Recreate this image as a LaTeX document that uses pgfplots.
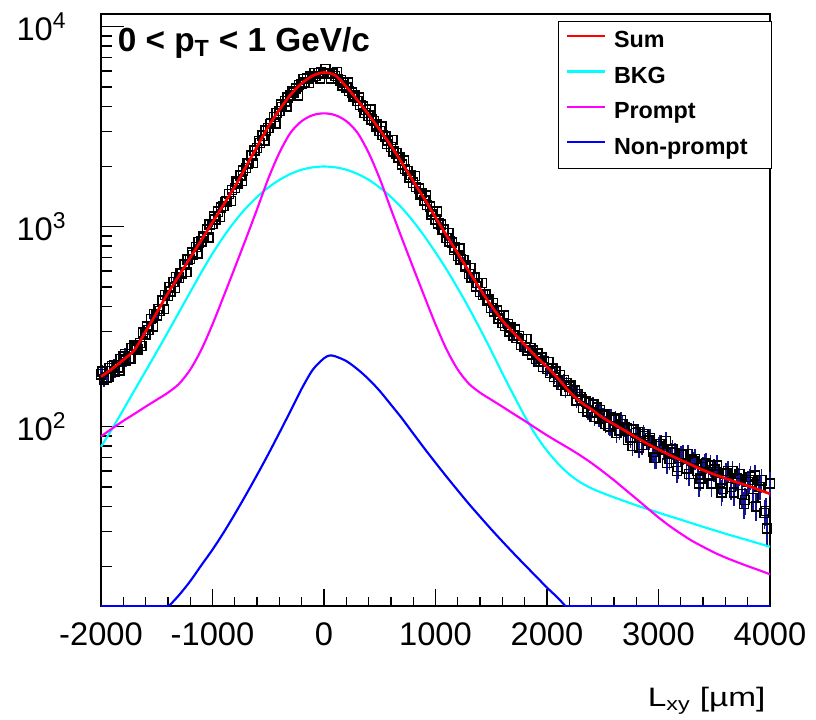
\documentclass[border=0pt]{standalone}
\usepackage{fontspec}
\setmainfont{Liberation Sans}
\usepackage{graphicx}
\usepackage{pgfplots}
\pgfplotsset{compat=1.18}
\definecolor{navyerr}{RGB}{20,20,150}
\definecolor{rRed}{RGB}{255,0,0}
\definecolor{rCyan}{RGB}{0,255,255}
\definecolor{rMagenta}{RGB}{255,0,255}
\definecolor{rBlue}{RGB}{0,0,255}
\pgfplotsset{datastyle/.style={forget plot, only marks, mark=square, mark size=3.4pt,
  mark options={black, line width=1.1pt, solid},
  error bars/.cd, y dir=both, y explicit, error bar style={navyerr, line width=1.2pt}, error mark=none}}
\begin{document}
\begin{tikzpicture}
\begin{axis}[
  set layers=standard,
  scale only axis, width=501.75pt, height=444pt,
  xmin=-2000, xmax=4000, ymode=log, ymin=12.7, ymax=11574,
  axis line style={line width=1pt},
  tick style={line width=1pt, black},
  tick align=inside, xtick pos=bottom, ytick pos=left,
  xtick={-2000,-1000,0,1000,2000,3000,4000},
  xticklabels={-2000,-1000,0,1000,2000,3000,4000},
  minor x tick num=4,
  ytick={100,1000,10000},
  yticklabels={10\textsuperscript{2},10\textsuperscript{3},10\textsuperscript{4}},
  minor ytick={20,30,40,50,60,70,80,90,200,300,400,500,600,700,800,900,2000,3000,4000,5000,6000,7000,8000,9000},
  xtick style={/pgfplots/major tick length=12.5pt,/pgfplots/minor tick length=6.5pt},
  ytick style={/pgfplots/major tick length=17pt,/pgfplots/minor tick length=8.25pt},
  ticklabel style={font=\fontsize{24.5}{29}\selectfont},
  xticklabel style={yshift=-9pt},
  yticklabel style={xshift=-22.5pt},
  clip=false,
  legend cell align=left,
  legend style={at={(1.003,0.988)}, anchor=north east, draw=black, line width=0.75pt, fill=white,
    font=\bfseries\fontsize{17.5}{21}\selectfont, inner xsep=6pt, inner ysep=7pt,
    row sep=10pt, column sep=6pt, nodes={inner sep=0pt, text height=12.6pt, text depth=4pt}},
  legend image code/.code={\draw[#1] (0pt,4.5pt) -- (28pt,4.5pt);},
]
\coordinate (bl) at (rel axis cs:0,0);
\addplot[datastyle] table[x=x, y=y, y error=e] {
x y e
-2000 183 13.5
-1950 176 13.3
-1900 201 14.2
-1850 198 14.1
-1800 224 15.0
-1750 221 14.9
-1700 255 16.0
-1650 262 16.2
-1600 290 17.0
-1550 345 18.6
-1500 361 19.0
-1450 428 20.7
-1400 452 21.3
-1350 530 23.0
-1300 556 23.6
-1250 648 25.5
-1200 688 26.2
-1150 790 28.1
-1100 842 29.0
-1050 968 31.1
-1000 1030 32.1
-950 1188 34.5
-900 1270 35.6
-850 1455 38.1
-800 1560 39.5
-750 1805 42.5
-700 1970 44.4
-650 2270 47.6
-600 2480 49.8
-550 2850 53.4
-500 3120 55.9
-450 3530 59.4
-400 3800 61.6
-350 4240 65.1
-300 4530 67.3
-250 4920 70.1
-200 5170 71.9
-150 5500 74.2
-100 5650 75.2
-50 5850 76.5
0 5860 76.6
50 5850 76.5
100 5660 75.2
150 5400 73.5
200 4960 70.4
250 4690 68.5
300 4250 65.2
350 3990 63.2
400 3590 59.9
450 3370 58.1
500 3010 54.9
550 2820 53.1
600 2500 50.0
650 2330 48.3
700 2050 45.3
750 1900 43.6
800 1660 40.7
850 1550 39.4
900 1350 36.7
950 1265 35.6
1000 1090 33.0
1050 1025 32.0
1100 880 29.7
1150 835 28.9
1200 716 26.8
1250 681 26.1
1300 580 24.1
1350 556 23.6
1400 472 21.7
1450 457 21.4
1500 392 19.8
1550 381 19.5
1600 330 18.2
1650 326 18.1
1700 286 16.9
1750 284 16.9
1800 250 15.8
1850 247 15.7
1900 218 14.8
1950 222 14.9
2000 194 13.9
2050 195 14.0
2100 168 13.0
2150 171 13.1
2200 158 12.6
2250 152 12.3
2300 141 11.9
2350 134 11.6
2400 118 10.9
2450 125 11.2
2500 114 10.7
2550 101 10.0
2600 108 10.4
2650 96 9.8
2700 99 9.9
2750 88 9.4
2800 93 9.6
2850 81 9.0
2900 86 9.3
2950 75 8.7
3000 80 8.9
3050 77 8.8
3100 69 8.3
3150 74 8.6
3200 72 8.5
3250 62 7.9
3300 68 8.2
3350 60 7.7
3400 63 7.9
3450 57 7.5
3500 61 7.8
3550 53 7.3
3600 58 7.6
3650 50 7.1
3700 55 7.4
3750 46 6.8
3800 53 7.3
3850 44 6.6
3900 50 7.1
3950 37 6.1
4000 52 7.2
};
\addplot[datastyle] table[x=x, y=y, y error=e] {
x y e
-1975 172 13.1
-1925 197 14.0
-1875 189 13.7
-1825 218 14.8
-1775 214 14.6
-1725 247 15.7
-1675 243 15.6
-1625 296 17.2
-1575 305 17.5
-1525 366 19.1
-1475 380 19.5
-1425 456 21.4
-1375 475 21.8
-1325 561 23.7
-1275 585 24.2
-1225 684 26.2
-1175 722 26.9
-1125 836 28.9
-1075 885 29.7
-1025 1025 32.0
-975 1086 33.0
-925 1250 35.4
-875 1335 36.5
-825 1530 39.1
-775 1650 40.6
-725 1915 43.8
-675 2080 45.6
-625 2410 49.1
-575 2620 51.2
-525 3030 55.0
-475 3280 57.3
-425 3710 60.9
-375 3960 62.9
-325 4430 66.6
-275 4670 68.3
-225 5100 71.4
-175 5260 72.5
-125 5630 75.0
-75 5680 75.4
-25 5920 76.9
25 5790 76.1
75 5830 76.4
125 5470 74.0
175 5250 72.5
225 4760 69.0
275 4530 67.3
325 4060 63.7
375 3840 62.0
425 3430 58.6
475 3240 56.9
525 2870 53.6
575 2700 52.0
625 2380 48.8
675 2220 47.1
725 1940 44.0
775 1810 42.5
825 1580 39.7
875 1475 38.4
925 1285 35.8
975 1195 34.6
1025 1040 32.2
1075 968 31.1
1125 842 29.0
1175 787 28.1
1225 686 26.2
1275 641 25.3
1325 558 23.6
1375 524 22.9
1425 455 21.3
1475 433 20.8
1525 377 19.4
1575 362 19.0
1625 319 17.9
1675 313 17.7
1725 278 16.7
1775 274 16.6
1825 241 15.5
1875 240 15.5
1925 212 14.6
1975 213 14.6
2025 186 13.6
2075 189 13.7
2125 162 12.7
2175 165 12.8
2225 151 12.3
2275 146 12.1
2325 124 11.1
2375 131 11.4
2425 112 10.6
2475 121 11.0
2525 103 10.1
2575 112 10.6
2625 93 9.6
2675 103 10.1
2725 86 9.3
2775 97 9.8
2825 79 8.9
2875 90 9.5
2925 88 9.4
2975 70 8.4
3025 82 9.1
3075 66 8.1
3125 77 8.8
3175 63 7.9
3225 73 8.5
3275 58 7.6
3325 69 8.3
3375 55 7.4
3425 66 8.1
3475 52 7.2
3525 64 8.0
3575 49 7.0
3625 60 7.7
3675 47 6.9
3725 58 7.6
3775 43 6.6
3825 56 7.5
3875 40 6.3
3925 54 7.3
3975 31 5.6
};
\addplot[datastyle] table[x=x, y=y, y error=e] {
x y e
-1985 189 13.7
-1935 177 13.3
-1885 203 14.2
-1835 191 13.8
-1785 231 15.2
-1735 220 14.8
-1685 249 15.8
-1635 253 15.9
-1585 317 17.8
-1535 317 17.8
-1485 387 19.7
-1435 387 19.7
-1385 498 22.3
-1335 493 22.2
-1285 586 24.2
-1235 593 24.4
-1185 742 27.2
-1135 736 27.1
-1085 891 29.8
-1035 884 29.7
-985 1126 33.6
-935 1118 33.4
-885 1330 36.5
-835 1344 36.7
-785 1680 41.0
-735 1689 41.1
-685 2075 45.6
-635 2082 45.6
-585 2688 51.8
-535 2705 52.0
-485 3257 57.1
-435 3278 57.3
-385 4077 63.9
-335 3983 63.1
-285 4754 68.9
-235 4539 67.4
-185 5473 74.0
-135 5227 72.3
-85 5860 76.6
-35 5505 74.2
15 6138 78.3
65 5518 74.3
115 5944 77.1
165 5084 71.3
215 5263 72.5
265 4454 66.7
315 4424 66.5
365 3712 60.9
415 3849 62.0
465 3164 56.2
515 3177 56.4
565 2591 50.9
615 2719 52.1
665 2207 47.0
715 2142 46.3
765 1763 42.0
815 1791 42.3
865 1451 38.1
915 1435 37.9
965 1153 34.0
1015 1192 34.5
1065 962 31.0
1115 929 30.5
1165 765 27.7
1215 779 27.9
1265 630 25.1
1315 622 24.9
1365 502 22.4
1415 522 22.8
1465 425 20.6
1515 415 20.4
1565 348 18.7
1615 359 18.9
1665 300 17.3
1715 307 17.5
1765 256 16.0
1815 275 16.6
1865 230 15.2
1915 232 15.2
1965 199 14.1
2015 211 14.5
2065 177 13.3
2115 181 13.5
2165 151 12.3
2215 161 12.7
2265 135 11.6
2315 137 11.7
2365 119 10.9
2415 129 11.4
2465 110 10.5
2515 115 10.7
2565 99.5 10.0
2615 110 10.5
2665 108 10.4
2715 98 9.9
2765 80 8.9
2815 94 9.7
2865 92 9.6
2915 85.5 9.2
2965 70 8.4
3015 82 9.1
3065 85 9.2
3115 74.5 8.6
3165 60 7.7
3215 72.2 8.5
3265 73 8.5
3315 66.9 8.2
3365 52 7.2
3415 65 8.1
3465 64 8.0
3515 59.5 7.7
3565 47 6.9
3615 58.5 7.6
3665 60 7.7
3715 54.9 7.4
3765 41 6.4
3815 54.2 7.4
3865 57 7.5
3915 49.9 7.1
3965 38 6.2
};
\addplot[rRed, line width=2pt, smooth, on layer=axis foreground] coordinates {
(-2000,178)(-1900,195)(-1800,216)(-1700,242)(-1600,299)(-1500,372)(-1400,465)(-1300,569)
(-1200,700)(-1100,857)(-1000,1052)(-900,1291)(-800,1585)(-700,1995)(-600,2512)(-500,3162)
(-400,3846)(-300,4571)(-200,5212)(-100,5689)(0,5902)(100,5715)(200,5012)(300,4295)
(400,3631)(500,3055)(600,2541)(700,2080)(800,1690)(900,1380)(1000,1114)(1100,902)
(1200,735)(1300,598)(1400,488)(1500,403)(1600,339)(1700,295)(1800,257)(1900,225)
(2000,199)(2100,174)(2200,150)(2300,133)(2400,122)(2500,111)(2600,103)(2700,95.5)
(2800,88.5)(2900,82.2)(3000,76.9)(3100,72.3)(3200,68.1)(3300,64.3)(3400,60.7)(3500,57.8)
(3600,55.2)(3700,52.8)(3800,50.7)(3900,48.4)(4000,46.2)};
\addlegendentry{Sum}
\addplot[rCyan, line width=1.6pt, smooth] coordinates {
(-2000,79.4)(-1900,97.7)(-1800,121.6)(-1700,152.1)(-1600,189.7)(-1500,237.1)(-1400,297.2)
(-1300,374.1)(-1200,470.9)(-1100,591.6)(-1000,734.5)(-900,893.3)(-800,1064)(-700,1239)
(-600,1409)(-500,1570)(-400,1714)(-300,1837)(-200,1928)(-100,1982)(0,2000)(100,1982)
(200,1928)(300,1837)(400,1718)(500,1570)(600,1409)(700,1239)(800,1064)(900,897)
(1000,745)(1100,610)(1200,492)(1300,392)(1400,308)(1500,240)(1600,185)(1700,144)
(1800,113)(1900,90.8)(2000,75.9)(2100,65.3)(2200,57.8)(2300,52.7)(2400,49.2)(2500,46.6)
(2600,44.4)(2800,40.5)(3000,37.2)(3200,34.3)(3400,31.6)(3600,29.2)(3800,27.1)(4000,25.1)};
\addlegendentry{BKG}
\addplot[rMagenta, line width=1.6pt, smooth] coordinates {
(-2000,89.5)(-1900,98)(-1800,107)(-1700,116)(-1600,126)(-1500,136.5)(-1400,148)(-1300,164)
(-1200,193)(-1100,243)(-1000,325)(-900,449)(-800,624)(-700,871)(-600,1225)(-500,1738)
(-400,2344)(-300,2951)(-200,3373)(-100,3614)(0,3690)(100,3614)(200,3373)(300,2951)
(400,2344)(500,1738)(600,1225)(700,871)(800,624)(900,449)(1000,325)(1100,243)
(1200,193)(1300,164)(1400,148)(1500,136.5)(1600,126)(1700,116)(1800,107)(1900,98.4)
(2000,90.6)(2100,83.9)(2200,77.8)(2300,71.8)(2400,65.8)(2500,59.8)(2600,54.1)(2700,48.6)
(2800,43.7)(2900,39.2)(3000,35.2)(3100,31.9)(3200,29.2)(3300,26.9)(3400,25.1)(3500,23.5)
(3600,22.2)(3700,21.1)(3800,20.1)(3900,19.2)(4000,18.3)};
\addlegendentry{Prompt}
\addplot[rBlue, line width=1.6pt, smooth] coordinates {
(-1390,12.7)(-1300,14.4)(-1200,16.9)(-1100,20.3)(-1000,24.3)(-900,29.6)(-800,36.6)
(-700,45.7)(-600,57.5)(-500,72.9)(-400,93.3)(-300,120)(-200,155)(-100,193)(0,220)
(50,227)(100,225)(200,213)(300,194)(400,173)(500,151)(600,129)(700,110)(800,92.5)
(900,78.0)(1000,66.1)(1100,56.2)(1200,48.0)(1300,41.1)(1400,35.5)(1500,30.7)(1600,26.7)
(1700,23.3)(1800,20.4)(1900,17.9)(2000,15.7)(2100,13.9)(2164,12.7)};
\addlegendentry{Non-prompt\hspace*{12pt}}
\addplot[rBlue, line width=1.6pt, forget plot] coordinates {(-2000,12.7)(-1390,12.7)};
\addplot[rBlue, line width=1.6pt, forget plot] coordinates {(2164,12.7)(4000,12.7)};
\node[anchor=base west, font=\bfseries\fontsize{25}{30}\selectfont] at (rel axis cs:0.018,0.936) {0 < p\textsubscript{T} < 1 GeV/c};
\node[anchor=base east, yshift=-75pt, font=\fontsize{20}{24}\selectfont] at (rel axis cs:1,0) {\scalebox{1.25}[1]{L\textsubscript{xy} [µm]}};
\end{axis}
\pgfresetboundingbox
\path[use as bounding box] ([shift={(-75.75pt,-84.75pt)}]bl) rectangle ++(612pt,539.25pt);
\end{tikzpicture}
\end{document}
